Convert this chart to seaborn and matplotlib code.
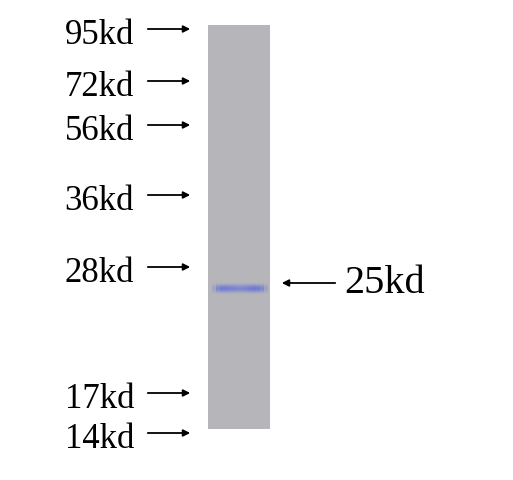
import numpy as np
import matplotlib
matplotlib.use("Agg")
import matplotlib.pyplot as plt
from matplotlib.colors import LinearSegmentedColormap
import seaborn as sns

sns.set_style("white")
plt.rcParams["font.family"] = ["Liberation Serif", "DejaVu Serif"]

# Marqueurs de poids moleculaire (position de migration en px depuis le haut)
marker_labels = ["95kd", "72kd", "56kd", "36kd", "28kd", "17kd", "14kd"]
marker_y = [29, 81, 125, 195, 267, 393, 433]

# Bande detectee
target_label = "25kd"
target_y = 283

# Piste du gel (px)
lane_top, lane_bottom = 25, 429
lane_left, lane_right = 208, 270

# Profil vertical de la bande (lignes en px image, intensite relative)
band_y = [282, 283, 284, 285, 286, 287, 288, 289, 290, 291, 292, 293, 294]
band_int = [0.05, 0.15, 0.35, 0.6, 0.8, 0.95, 1.0, 0.95, 0.8, 0.55, 0.3, 0.12, 0.04]
# Profil horizontal de la bande (par pas de 4 px sur la largeur de la piste)
band_cols = [0.0, 0.3, 0.75, 0.9, 0.9, 0.85, 0.8, 0.75, 0.75, 0.8, 0.9, 0.95, 0.9, 0.75, 0.35, 0.0]

W, H = 513, 480
fig = plt.figure(figsize=(W / 100, H / 100), dpi=100)
ax = fig.add_axes([0, 0, 1, 1])
ax.set_xlim(0, W)
ax.set_ylim(H, 0)
ax.axis("off")

# Piste : heatmap de l'intensite
n_rows = lane_bottom - lane_top
n_cols = lane_right - lane_left
rows = np.zeros(n_rows)
for y, v in zip(band_y, band_int):
    rows[y - lane_top] = v
cols = np.repeat(band_cols, 4)[:n_cols]
cols = np.pad(cols, (0, n_cols - len(cols)))
lane = np.outer(rows, cols)

cmap = LinearSegmentedColormap.from_list("gel", ["#b6b5ba", "#9398c8", "#6c78cf"])
lane_ax = fig.add_axes([lane_left / W, (H - lane_bottom) / H,
                        n_cols / W, n_rows / H])
sns.heatmap(lane, cmap=cmap, vmin=0, vmax=1, cbar=False, ax=lane_ax,
            xticklabels=False, yticklabels=False)
lane_ax.set_axis_off()

arrow = dict(arrowstyle="-|>", color="black", lw=1.3, mutation_scale=10)
for lab, y in zip(marker_labels, marker_y):
    ax.annotate("", xy=(193, y), xytext=(145, y), arrowprops=arrow)
    ax.text(134, y + 15, lab, ha="right", va="baseline", fontsize=25,
            color="black")

ax.annotate("", xy=(279, target_y), xytext=(338, target_y), arrowprops=arrow)
ax.text(344, target_y + 10, target_label, ha="left", va="baseline",
        fontsize=29, color="black")

plt.savefig("out.png", dpi=100)
plt.close()
